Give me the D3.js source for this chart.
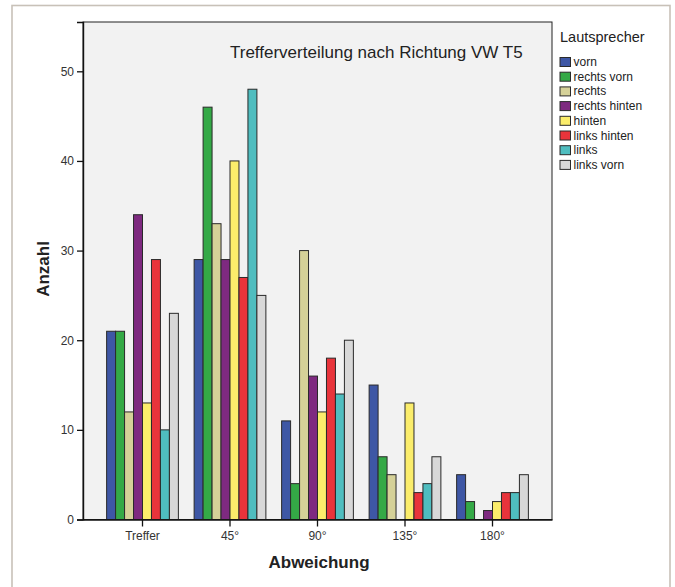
<!DOCTYPE html>
<html>
<head>
<meta charset="utf-8">
<script src="https://cdn.jsdelivr.net/npm/d3@7"></script>
<style>
  html, body { margin: 0; padding: 0; background: #ffffff; }
  svg { display: block; font-family: "Liberation Sans", Arial, sans-serif; }
</style>
</head>
<body>
<svg id="chart" width="675" height="587"></svg>
<script>
// Kategorien der Abweichung (x-Achse)
const categories = ["Treffer", "45°", "90°", "135°", "180°"];

// Lautsprecherpositionen (Legende / Reihen)
const speakers = ["vorn", "rechts vorn", "rechts", "rechts hinten", "hinten", "links hinten", "links", "links vorn"];

// Anzahl je Lautsprecher, in der Reihenfolge der Kategorien
const vorn         = [21, 29, 11, 15, 5];
const rechtsVorn   = [21, 46, 4, 7, 2];
const rechts       = [12, 33, 30, 5, 0];
const rechtsHinten = [34, 29, 16, 0, 1];
const hinten       = [13, 40, 12, 13, 2];
const linksHinten  = [29, 27, 18, 3, 3];
const links        = [10, 48, 14, 4, 3];
const linksVorn    = [23, 25, 20, 7, 5];

const seriesValues = [vorn, rechtsVorn, rechts, rechtsHinten, hinten, linksHinten, links, linksVorn];

const yTicks = [0, 10, 20, 30, 40, 50];

const colors = ["#3e57a5", "#34a946", "#d5d198", "#7e2a80", "#fbed6b", "#e8343b", "#4fbdbf", "#d8d8d8"];

const svg = d3.select("#chart");

// Plotbereich
const plot = { left: 83, right: 552, top: 22, bottom: 519.5 };

// äußerer Rahmen
svg.append("rect")
  .attr("x", 12).attr("y", 5.5)
  .attr("width", 658).attr("height", 620)
  .attr("fill", "none")
  .attr("stroke", "#c8c1b8")
  .attr("stroke-width", 1.6);

svg.append("rect")
  .attr("x", plot.left).attr("y", plot.top)
  .attr("width", plot.right - plot.left).attr("height", plot.bottom - plot.top)
  .attr("fill", "#f2f2f2")
  .attr("stroke", "#222")
  .attr("stroke-width", 1);

const x0 = d3.scaleBand()
  .domain(categories)
  .range([plot.left, plot.right])
  .paddingInner(0.18)
  .paddingOuter(0.27);

const x1 = d3.scaleBand()
  .domain(speakers)
  .range([0, x0.bandwidth()]);

const y = d3.scaleLinear()
  .domain([0, 55.5])
  .range([plot.bottom, plot.top]);

// Balken
const rows = [];
categories.forEach((c, ci) => {
  speakers.forEach((s, si) => {
    rows.push({ cat: c, speaker: s, si: si, value: seriesValues[si][ci] });
  });
});

svg.append("g")
  .selectAll("rect")
  .data(rows.filter(d => d.value > 0))
  .join("rect")
  .attr("x", d => x0(d.cat) + x1(d.speaker))
  .attr("y", d => y(d.value))
  .attr("width", x1.bandwidth())
  .attr("height", d => y(0) - y(d.value))
  .attr("fill", d => colors[d.si])
  .attr("stroke", "#2a2a2a")
  .attr("stroke-width", 1);

// y-Achse
const yAxis = d3.axisLeft(y).tickValues(yTicks).tickSize(6).tickPadding(3).tickFormat(d3.format("d"));
const gy = svg.append("g")
  .attr("transform", `translate(${plot.left},0)`)
  .call(yAxis);
gy.select(".domain").attr("stroke", "#111").attr("stroke-width", 1.4);
gy.selectAll(".tick line").attr("stroke", "#111").attr("stroke-width", 1.3);
gy.selectAll(".tick text")
  .attr("fill", "#333")
  .style("font-size", "12px")
  .style("font-family", "Liberation Sans, Arial, sans-serif");

// x-Achse
const xAxis = d3.axisBottom(x0).tickSize(7).tickPadding(5).tickSizeOuter(0);
const gx = svg.append("g")
  .attr("transform", `translate(0,${plot.bottom})`)
  .call(xAxis);
gx.select(".domain").attr("stroke", "#111").attr("stroke-width", 1.6);
gx.selectAll(".tick line").attr("stroke", "#111").attr("stroke-width", 1.3);
gx.selectAll(".tick text")
  .attr("fill", "#333")
  .style("font-size", "12px")
  .style("font-family", "Liberation Sans, Arial, sans-serif");

// Titel
svg.append("text")
  .attr("x", 230).attr("y", 57.5)
  .attr("fill", "#222")
  .style("font-size", "17px")
  .text("Trefferverteilung nach Richtung VW T5");

// Achsentitel
svg.append("text")
  .attr("transform", "translate(48.5,269) rotate(-90)")
  .attr("text-anchor", "middle")
  .attr("fill", "#222")
  .style("font-size", "17px")
  .style("font-weight", "bold")
  .text("Anzahl");

svg.append("text")
  .attr("x", 319).attr("y", 568)
  .attr("text-anchor", "middle")
  .attr("fill", "#222")
  .style("font-size", "17px")
  .style("font-weight", "bold")
  .text("Abweichung");

// Legende
const legend = svg.append("g");
legend.append("text")
  .attr("x", 560).attr("y", 42)
  .attr("fill", "#222")
  .style("font-size", "14.5px")
  .text("Lautsprecher");

const items = legend.selectAll("g.item")
  .data(speakers)
  .join("g")
  .attr("class", "item")
  .attr("transform", (d, i) => `translate(560,${57.5 + i * 14.7})`);

items.append("rect")
  .attr("width", 10.5).attr("height", 9)
  .attr("fill", (d, i) => colors[i])
  .attr("stroke", "#2a2a2a")
  .attr("stroke-width", 1);

items.append("text")
  .attr("x", 13.5).attr("y", 8.5)
  .attr("fill", "#222")
  .style("font-size", "12px")
  .text(d => d);
</script>
</body>
</html>
